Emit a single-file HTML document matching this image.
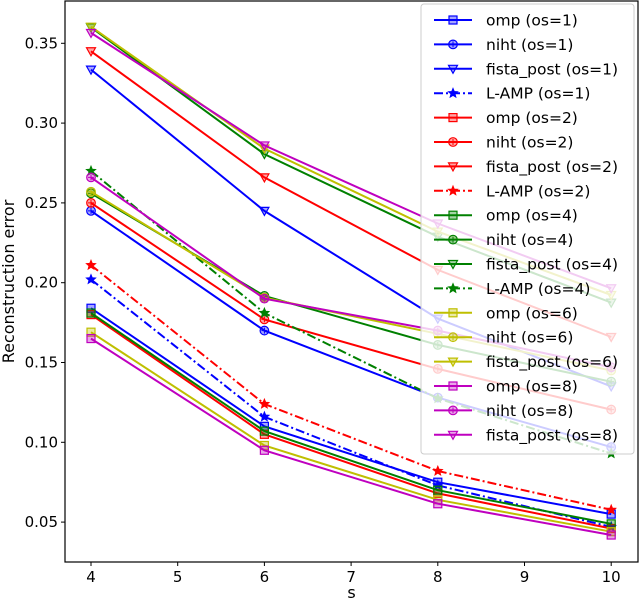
<!DOCTYPE html>
<html><head><meta charset="utf-8"><style>
html,body{margin:0;padding:0;background:#fff;}
svg{display:block;font-family:"DejaVu Sans","Liberation Sans",sans-serif;}
</style></head><body>
<svg id="chart" width="640" height="602" viewBox="0 0 640 602" xmlns="http://www.w3.org/2000/svg"></svg>
<script>
const xValues = [4, 6, 8, 10];
const xTicks = [4, 5, 6, 7, 8, 9, 10];
const yTicks = [0.05, 0.10, 0.15, 0.20, 0.25, 0.30, 0.35];
const seriesNames = ["omp (os=1)","niht (os=1)","fista_post (os=1)","L-AMP (os=1)","omp (os=2)","niht (os=2)","fista_post (os=2)","L-AMP (os=2)","omp (os=4)","niht (os=4)","fista_post (os=4)","L-AMP (os=4)","omp (os=6)","niht (os=6)","fista_post (os=6)","omp (os=8)","niht (os=8)","fista_post (os=8)"];
const ompOs1 = [0.184, 0.110, 0.075, 0.055];
const nihtOs1 = [0.245, 0.170, 0.128, 0.097];
const fistaOs1 = [0.3335, 0.245, 0.1775, 0.135];
const lampOs1 = [0.202, 0.116, 0.073, 0.047];
const ompOs2 = [0.180, 0.105, 0.068, 0.046];
const nihtOs2 = [0.250, 0.177, 0.146, 0.1205];
const fistaOs2 = [0.345, 0.266, 0.208, 0.166];
const lampOs2 = [0.211, 0.124, 0.082, 0.0577];
const ompOs4 = [0.181, 0.107, 0.070, 0.0489];
const nihtOs4 = [0.256, 0.1917, 0.161, 0.138];
const fistaOs4 = [0.360, 0.2806, 0.2288, 0.1875];
const lampOs4 = [0.270, 0.181, 0.1275, 0.093];
const ompOs6 = [0.169, 0.098, 0.064, 0.044];
const nihtOs6 = [0.257, 0.1906, 0.168, 0.145];
const fistaOs6 = [0.3604, 0.284, 0.232, 0.1923];
const ompOs8 = [0.165, 0.095, 0.0615, 0.0419];
const nihtOs8 = [0.266, 0.190, 0.170, 0.147];
const fistaOs8 = [0.3565, 0.286, 0.2371, 0.1965];
const seriesValues = [ompOs1,nihtOs1,fistaOs1,lampOs1,ompOs2,nihtOs2,fistaOs2,lampOs2,ompOs4,nihtOs4,fistaOs4,lampOs4,ompOs6,nihtOs6,fistaOs6,ompOs8,nihtOs8,fistaOs8];

const NS="http://www.w3.org/2000/svg";
const svg=document.getElementById('chart');
const L=65,R=638,T=1,B=562;
const xs=v=>91+(v-4)*86.7;
const ys=v=>43.3+(0.35-v)*1596;
function mk(tag,attrs,parent){const e=document.createElementNS(NS,tag);for(const k in attrs)e.setAttribute(k,attrs[k]);(parent||svg).appendChild(e);return e;}
const colorOf=n=>{const m=n.match(/os=(\d)/)[1];return {"1":"#0000ff","2":"#ff0000","4":"#008000","6":"#bfbf00","8":"#bf00bf"}[m];};
const kindOf=n=>n.startsWith("omp")?"sq":n.startsWith("niht")?"ci":n.startsWith("fista")?"tri":"star";
function marker(g,kind,x,y,c){
  let e;
  if(kind==="sq"){e=mk('rect',{x:x-4,y:y-4,width:8,height:8},g);}
  else if(kind==="ci"){e=mk('circle',{cx:x,cy:y,r:4.3},g);mk('path',{d:`M${x-3} ${y}H${x+3}M${x} ${y-3}V${y+3}`,stroke:c,'stroke-width':1,fill:'none'},g);}
  else if(kind==="tri"){e=mk('path',{d:`M${x-4.5} ${y-3.5}L${x+4.5} ${y-3.5}L${x} ${y+4.5}Z`},g);}
  else {let p='';for(let i=0;i<10;i++){const r=i%2?2:4.5,a=-Math.PI/2+i*Math.PI/5;p+=(i?'L':'M')+(x+r*Math.cos(a)).toFixed(2)+' '+(y+r*Math.sin(a)).toFixed(2);}e=mk('path',{d:p+'Z'},g);}
  e.setAttribute('fill',c);e.setAttribute('fill-opacity',kind==="star"?1:0.35);e.setAttribute('stroke',c);e.setAttribute('stroke-width',1.2);
}
mk('rect',{x:0,y:0,width:640,height:602,fill:'#fff'});
const xAxis=mk('g',{});


xTicks.forEach(t=>{mk('line',{x1:xs(t),x2:xs(t),y1:B,y2:B+4,stroke:'#000','stroke-width':1},xAxis);
  const tx=mk('text',{x:xs(t),y:B+20,'font-size':15,'text-anchor':'middle'},xAxis);tx.textContent=t;
  
  });
const yAxis=mk('g',{});


yTicks.forEach(t=>{mk('line',{x1:L-4,x2:L,y1:ys(t),y2:ys(t),stroke:'#000','stroke-width':1},yAxis);
  const tx=mk('text',{x:L-7,y:ys(t)+5,'font-size':15,'text-anchor':'end'},yAxis);tx.textContent=t.toFixed(2);
  
  });
const xl=mk('text',{x:(L+R)/2,y:598,'font-size':16,'text-anchor':'middle'});xl.textContent='s';


const yl=mk('text',{x:0,y:0,'font-size':16,'text-anchor':'middle',transform:`translate(14,${(T+B)/2}) rotate(-90)`});yl.textContent='Reconstruction error';


seriesNames.forEach((n,i)=>{
  const c=colorOf(n),k=kindOf(n);
  const g=mk('g',{});
  
  
  const pts=seriesValues[i].map((v,j)=>xs(xValues[j]).toFixed(1)+','+ys(v).toFixed(1)).join(' ');
  const pl=mk('polyline',{points:pts,fill:'none',stroke:c,'stroke-width':2},g);
  if(k==="star")pl.setAttribute('stroke-dasharray','9,3,2,3');
  seriesValues[i].forEach((v,j)=>marker(g,k,xs(xValues[j]),ys(v),c));
});
mk('rect',{x:L,y:T,width:R-L,height:B-T,fill:'none',stroke:'#000','stroke-width':1.2});
const lg=mk('g',{});


mk('rect',{x:421,y:4,width:213,height:450,rx:3,fill:'#fff','fill-opacity':0.8,stroke:'#ccc','stroke-width':1},lg);
seriesNames.forEach((n,i)=>{
  const c=colorOf(n),k=kindOf(n),y=20+i*24.4;
  const e=mk('g',{},lg);
  
  
  const ln=mk('line',{x1:434,x2:472,y1:y,y2:y,stroke:c,'stroke-width':2},e);
  if(k==="star")ln.setAttribute('stroke-dasharray','9,3,2,3');
  marker(e,k,453,y,c);
  const t=mk('text',{x:486,y:y+5.5,'font-size':15.5},e);t.textContent=n;
});
</script>
</body></html>
